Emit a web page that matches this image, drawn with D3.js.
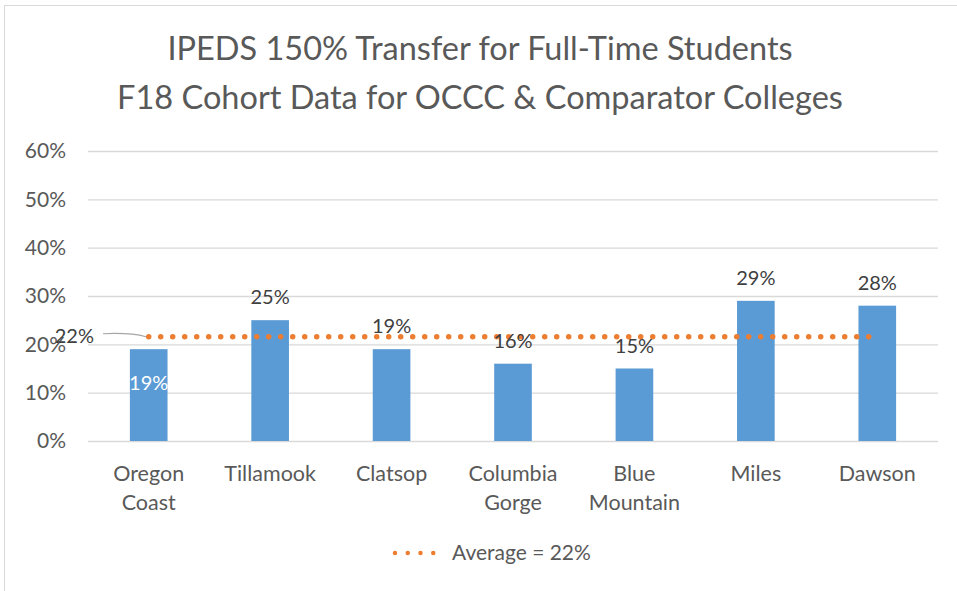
<!DOCTYPE html>
<html>
<head>
<meta charset="utf-8">
<script src="https://cdn.jsdelivr.net/npm/d3@7"></script>
<style>
  body { margin: 0; background: #fff; }
  svg { font-family: Lato, "Open Sans", sans-serif; }
</style>
</head>
<body>
<div id="chart"></div>
<script>
// chart data
const categories = ["Oregon Coast", "Tillamook", "Clatsop", "Columbia Gorge", "Blue Mountain", "Miles", "Dawson"];
const catLines = [["Oregon", "Coast"], ["Tillamook"], ["Clatsop"], ["Columbia", "Gorge"], ["Blue", "Mountain"], ["Miles"], ["Dawson"]];
const transferRate = [0.19, 0.25, 0.19, 0.16, 0.15, 0.29, 0.28];
const average = 0.2157;
const yTicks = [0, 0.1, 0.2, 0.3, 0.4, 0.5, 0.6];
const titleLines = ["IPEDS 150% Transfer for Full-Time Students", "F18 Cohort Data for OCCC & Comparator Colleges"];
const legendLabel = "Average = 22%";

const W = 957, H = 591;
const M = { left: 88, right: 19, top: 151, bottom: 150 };
const pct = d3.format(".0%");

const svg = d3.select("#chart").append("svg")
    .attr("width", W)
    .attr("height", H);

// outer chart border (cropped on right/bottom like the picture)
svg.append("rect")
    .attr("x", 4.5).attr("y", 5.5)
    .attr("width", W + 10).attr("height", H + 10)
    .attr("fill", "#fff")
    .attr("stroke", "#d9d9d9");

const x = d3.scaleBand()
    .domain(categories)
    .range([M.left, W - M.right])
    .paddingInner(0.69)
    .paddingOuter(0.345);

const y = d3.scaleLinear()
    .domain([0, 0.6])
    .range([H - M.bottom, M.top]);

// title
svg.append("g").selectAll("text")
    .data(titleLines)
    .join("text")
    .attr("x", 480)
    .attr("y", (d, i) => 60 + i * 49)
    .attr("text-anchor", "middle")
    .attr("fill", "#595959")
    .attr("font-size", 32.5)
    .text(d => d);

// gridlines + y axis labels
const yAxis = svg.append("g")
    .attr("transform", `translate(${M.left},0)`)
    .call(d3.axisLeft(y).tickValues(yTicks).tickFormat(pct).tickSize(-(W - M.left - M.right)).tickPadding(22));
yAxis.select(".domain").remove();
yAxis.selectAll(".tick line").attr("stroke", "#d9d9d9").attr("stroke-width", 1.3);
yAxis.selectAll(".tick text").attr("fill", "#595959").attr("font-size", 21).attr("font-family", "Lato, sans-serif");

// bars
svg.append("g").selectAll("rect")
    .data(transferRate)
    .join("rect")
    .attr("x", (d, i) => x(categories[i]))
    .attr("y", d => y(d))
    .attr("width", x.bandwidth())
    .attr("height", d => y(0) - y(d))
    .attr("fill", "#5b9bd5");

// category labels
const catG = svg.append("g").selectAll("text")
    .data(catLines)
    .join("text")
    .attr("text-anchor", "middle")
    .attr("fill", "#595959")
    .attr("font-size", 21.5)
    .attr("x", (d, i) => x(categories[i]) + x.bandwidth() / 2)
    .attr("y", 481);
catG.selectAll("tspan")
    .data(d => d)
    .join("tspan")
    .attr("x", function () { return this.parentNode.getAttribute("x"); })
    .attr("dy", (d, i) => i === 0 ? 0 : 29)
    .text(d => d);

// average line
const cx = i => x(categories[i]) + x.bandwidth() / 2;
svg.append("line")
    .attr("x1", cx(0))
    .attr("x2", cx(categories.length - 1) - 8)
    .attr("y1", y(average))
    .attr("y2", y(average))
    .attr("stroke", "#ed7d31")
    .attr("stroke-width", 5.5)
    .attr("stroke-linecap", "round")
    .attr("stroke-dasharray", "0 12");

// average label + leader line
svg.append("path")
    .attr("d", `M103,${y(average) - 3} C125,${y(average) - 4} 135,${y(average) - 3} 146,${y(average)}`)
    .attr("fill", "none")
    .attr("stroke", "#a6a6a6")
    .attr("stroke-width", 1.2);
svg.append("text")
    .attr("x", 94)
    .attr("y", y(average) + 6)
    .attr("text-anchor", "end")
    .attr("fill", "#404040")
    .attr("font-size", 20)
    .text(pct(average));

// value labels (first one sits inside its bar)
svg.append("g").selectAll("text")
    .data(transferRate)
    .join("text")
    .attr("text-anchor", "middle")
    .attr("font-size", 20)
    .attr("x", (d, i) => cx(i))
    .attr("y", (d, i) => i === 0 ? y(d) + 41 : y(d) - 16)
    .attr("fill", (d, i) => i === 0 ? "#fff" : "#404040")
    .text(d => pct(d));

// legend
const leg = svg.append("g").attr("transform", "translate(393,553)");
leg.append("line")
    .attr("x1", 2).attr("x2", 53)
    .attr("stroke", "#ed7d31")
    .attr("stroke-width", 4.5)
    .attr("stroke-linecap", "round")
    .attr("stroke-dasharray", "0 12.75");
leg.append("text")
    .attr("x", 59)
    .attr("y", 7)
    .attr("fill", "#595959")
    .attr("font-size", 21)
    .text(legendLabel);
</script>
</body>
</html>
